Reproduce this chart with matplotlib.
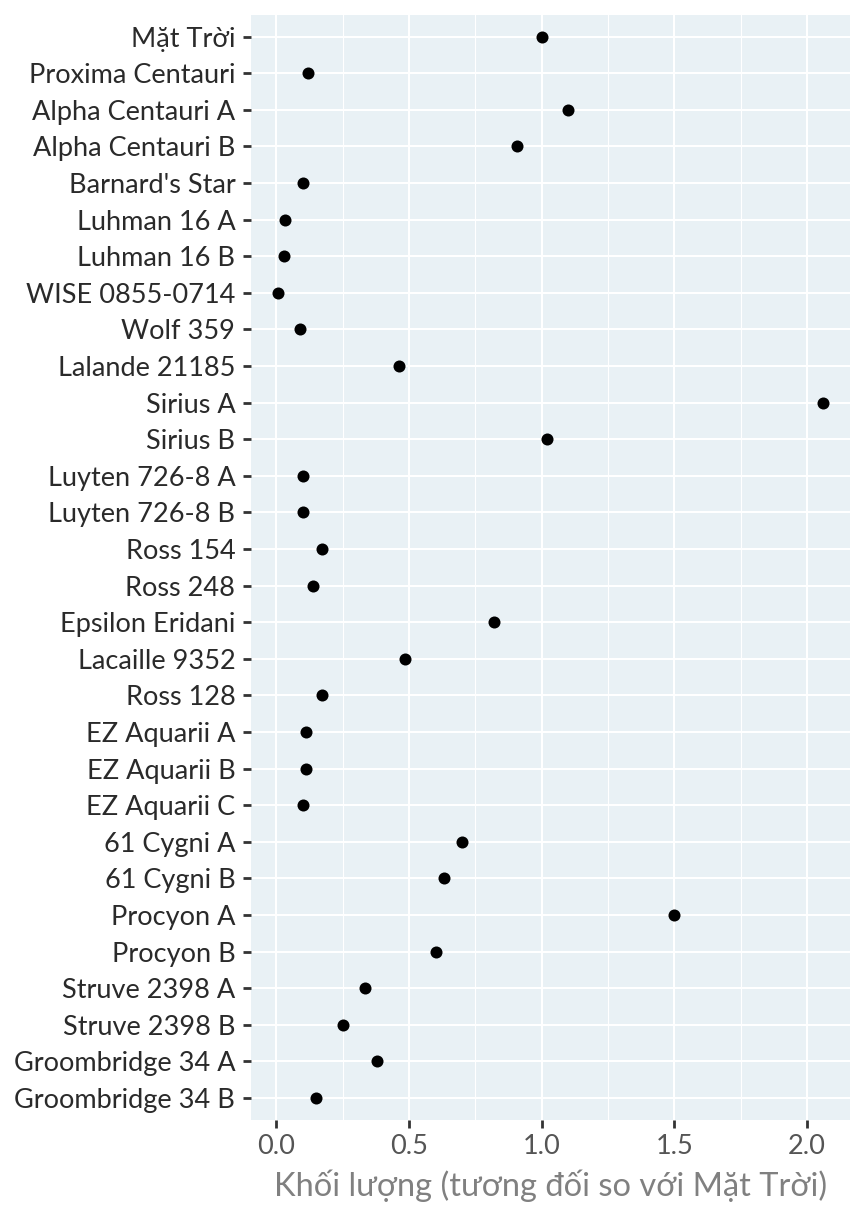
import matplotlib
matplotlib.use("Agg")
import matplotlib.pyplot as plt
from matplotlib.ticker import MultipleLocator

plt.rcParams['font.family'] = ['Lato', 'DejaVu Sans']

stars = [
    "Mặt Trời", "Proxima Centauri", "Alpha Centauri A", "Alpha Centauri B",
    "Barnard's Star", "Luhman 16 A", "Luhman 16 B", "WISE 0855-0714",
    "Wolf 359", "Lalande 21185", "Sirius A", "Sirius B",
    "Luyten 726-8 A", "Luyten 726-8 B", "Ross 154", "Ross 248",
    "Epsilon Eridani", "Lacaille 9352", "Ross 128", "EZ Aquarii A",
    "EZ Aquarii B", "EZ Aquarii C", "61 Cygni A", "61 Cygni B",
    "Procyon A", "Procyon B", "Struve 2398 A", "Struve 2398 B",
    "Groombridge 34 A", "Groombridge 34 B",
]
mass = [
    1.0, 0.12, 1.1, 0.907,
    0.10, 0.032, 0.027, 0.005,
    0.09, 0.46, 2.06, 1.02,
    0.10, 0.10, 0.17, 0.136,
    0.82, 0.485, 0.17, 0.11,
    0.11, 0.10, 0.70, 0.63,
    1.5, 0.60, 0.334, 0.25,
    0.38, 0.15,
]

fig = plt.figure(figsize=(8.64, 12.16), dpi=100)
ax = fig.add_axes([0.29, 0.079, 0.694, 0.909])
ax.set_facecolor('#E9F1F5')

ypos = list(range(len(stars)))
ax.scatter(mass, ypos, s=75, color='black', zorder=3, linewidths=0)

ax.set_yticks(ypos)
ax.set_yticklabels(stars)
n = len(stars)
ax.set_ylim(n - 1 + 0.6, -0.6)

lo, hi = min(mass), max(mass)
pad = (hi - lo) * 0.05
ax.xaxis.set_minor_locator(MultipleLocator(0.25))
ax.set_xticks([0.0, 0.5, 1.0, 1.5, 2.0])
ax.set_xticklabels(["0.0", "0.5", "1.0", "1.5", "2.0"])
ax.set_xlim(lo - pad, hi + pad)

ax.grid(which='major', color='white', linewidth=1.5, zorder=0)
ax.grid(which='minor', axis='x', color='white', linewidth=0.8, zorder=0)
ax.set_axisbelow(True)
for s in ax.spines.values():
    s.set_visible(False)

ax.tick_params(axis='y', which='major', length=6, width=2, color='#333333',
               labelsize=19.5, labelcolor='#2a2a2a', pad=5)
ax.tick_params(axis='x', which='major', length=6, width=2, color='#333333',
               labelsize=19.5, labelcolor='#555555', pad=4)
ax.tick_params(axis='x', which='minor', length=0)

ax.set_xlabel("Khối lượng (tương đối so với Mặt Trời)", fontsize=23.5,
              color='#808080', labelpad=8)

fig.savefig("out.png", dpi=100)
